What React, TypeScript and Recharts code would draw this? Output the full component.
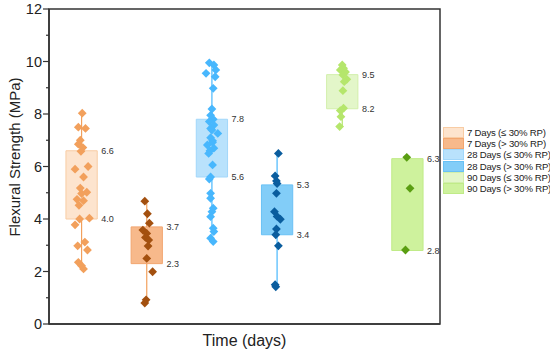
import React from 'react';
import {
  ComposedChart,
  Scatter,
  XAxis,
  YAxis,
  ReferenceArea,
  ReferenceLine,
} from 'recharts';

const groups = [
  '7 Days (≤ 30% RP)',
  '7 Days (> 30% RP)',
  '28 Days (≤ 30% RP)',
  '28 Days (> 30% RP)',
  '90 Days (≤ 30% RP)',
  '90 Days (> 30% RP)',
];
const boxLow = [4.0, 2.3, 5.6, 3.4, 8.2, 2.8];
const boxHigh = [6.6, 3.7, 7.8, 5.3, 9.5, 6.3];

// measured strengths, with horizontal jitter (in category units)
const d7Low = [8.03, 7.5, 7.45, 7.0, 6.85, 6.72, 6.58, 6.0, 5.9, 5.6, 5.18, 5.02, 4.97, 4.75, 4.7, 4.52, 4.03, 4.0, 3.78, 3.12, 2.98, 2.82, 2.35, 2.22, 2.1];
const j7Low = [0.01, -0.05, 0.06, -0.02, -0.05, 0.02, -0.01, 0.1, -0.1, 0.03, -0.02, 0.08, 0, -0.07, 0.03, -0.04, 0.12, -0.03, -0.1, 0.05, -0.06, 0.09, -0.05, 0, 0.03];
const d7High = [4.68, 4.2, 3.84, 3.58, 3.45, 3.3, 3.2, 2.97, 2.5, 1.99, 0.92, 0.8];
const j7High = [-0.03, 0.01, 0.04, -0.06, 0, -0.02, 0.03, 0.02, 0, 0.09, -0.01, -0.03];
const d28Low = [9.95, 9.87, 9.68, 9.55, 9.42, 8.98, 8.19, 7.95, 7.8, 7.71, 7.58, 7.45, 7.39, 7.26, 7.1, 6.98, 6.92, 6.82, 6.7, 6.6, 6.5, 6.06, 5.6, 5.52, 4.98, 4.79, 4.41, 4.28, 4.09, 3.65, 3.52, 3.27, 3.14];
const j28Low = [-0.04, 0.03, 0.06, -0.09, 0.05, 0.02, 0, -0.02, 0.02, -0.04, 0.03, -0.02, 0, 0.09, -0.02, 0.01, 0.01, -0.07, 0.03, -0.03, -0.05, 0.01, -0.02, -0.04, -0.02, -0.02, 0.02, 0, -0.02, 0.02, 0.03, -0.02, 0.02];
const d28High = [6.5, 5.64, 5.45, 5.35, 4.98, 4.28, 4.1, 3.99, 3.62, 3.4, 2.98, 1.5, 1.42];
const j28High = [0.02, -0.03, -0.01, 0, -0.01, -0.04, 0, 0.05, -0.01, -0.02, 0.02, -0.03, -0.02];
const d90Low = [9.87, 9.74, 9.68, 9.6, 9.49, 9.32, 9.23, 8.89, 8.22, 8.13, 7.9, 7.52];
const j90Low = [0, 0.02, -0.03, 0.05, 0.01, 0.07, 0.03, 0.01, 0.02, -0.03, -0.02, -0.04];
const d90High = [6.35, 5.17, 2.82];
const j90High = [-0.01, 0.04, -0.03];

const values = [d7Low, d7High, d28Low, d28High, d90Low, d90High];
const jitters = [j7Low, j7High, j28Low, j28High, j90Low, j90High];

const yTicks = [0, 1, 2, 3, 4, 5, 6, 7, 8, 9, 10, 11, 12];

const boxFill = ['#fde4ce', '#f7b98b', '#b9e2fc', '#82cdf8', '#e3f6c9', '#cef29d'];
const boxStroke = ['#f8cca4', '#f2a670', '#a2d7fa', '#69c1f5', '#d2efab', '#c0eb88'];
const pointColor = ['#f2a05c', '#a3500f', '#48b7fd', '#0a5d9e', '#b5e66c', '#5a9e12'];
const lineColor = ['#f2a05c', '#f2a05c', '#48b7fd', '#48b7fd', '#b5e66c', '#5a9e12'];

const HALF = 0.24;
const FONT = 'Liberation Sans, Arial, sans-serif';

const Diamond = (props: any) => {
  const { cx, cy, fill } = props;
  const r = 4.4;
  return <polygon points={`${cx},${cy - r} ${cx + r},${cy} ${cx},${cy + r} ${cx - r},${cy}`} fill={fill} />;
};

const ValueLabel = (props: any) => (
  <text x={props.cx + 4} y={props.cy + 3.2} fontSize={9} fill="#333" fontFamily={FONT}>
    {props.payload.label}
  </text>
);

const YTick = (props: any) => {
  const { x, y, payload } = props;
  const major = payload.value % 2 === 0;
  return (
    <g>
      <line x1={x - (major ? 6 : 3)} x2={x} y1={y} y2={y} stroke="#333" strokeWidth={1.2} />
      {major && (
        <text x={x - 7} y={y + 5} textAnchor="end" fontSize={14.5} fill="#222" fontFamily={FONT}>
          {payload.value}
        </text>
      )}
    </g>
  );
};

const YLabel = () => (
  <text x={20} y={157} transform="rotate(-90 20 157)" textAnchor="middle" fontSize={15} fill="#222" fontFamily={FONT}>
    Flexural Strength (MPa)
  </text>
);

const XLabel = (props: any) => {
  const vb = props.viewBox;
  return (
    <text x={vb.x + vb.width / 2} y={346} textAnchor="middle" fontSize={16} fill="#222" fontFamily={FONT}>
      Time (days)
    </text>
  );
};

export default function App() {
  const points = values.map((vals, i) => vals.map((v, k) => ({ x: i + 1 + jitters[i][k], y: v })));
  const labels = groups.map((_, i) => [
    { x: i + 1 + HALF, y: boxHigh[i], label: boxHigh[i].toFixed(1) },
    { x: i + 1 + HALF, y: boxLow[i], label: boxLow[i].toFixed(1) },
  ]);

  return (
    <div style={{ position: 'absolute', left: 0, top: 0, width: 550, height: 350, background: '#fff' }}>
      <ComposedChart width={550} height={350} margin={{ top: 9, right: 110, bottom: 0, left: 0 }}>
        <XAxis
          type="number"
          dataKey="x"
          domain={[0.5, 6.5]}
          tick={false}
          tickLine={false}
          axisLine={{ stroke: '#333', strokeWidth: 1.5 }}
          height={26}
          label={<XLabel />}
        />
        <YAxis
          type="number"
          dataKey="y"
          domain={[0, 12]}
          ticks={yTicks}
          interval={0}
          tick={<YTick />}
          tickLine={false}
          tickSize={0}
          tickMargin={0}
          axisLine={{ stroke: '#333', strokeWidth: 1.5 }}
          width={49}
          label={<YLabel />}
        />
        <ReferenceArea x1={0.5} x2={6.5} y1={0} y2={12} fill="none" stroke="#333" strokeWidth={1.5} />
        {groups.map((_, i) => {
          const c = i + 1;
          const lo = Math.min(...values[i]);
          const hi = Math.max(...values[i]);
          return (
            <React.Fragment key={'w' + i}>
              {lo < boxLow[i] && (
                <ReferenceLine segment={[{ x: c, y: lo }, { x: c, y: boxLow[i] }]} stroke={lineColor[i]} strokeWidth={1.2} />
              )}
              {hi > boxHigh[i] && (
                <ReferenceLine segment={[{ x: c, y: boxHigh[i] }, { x: c, y: hi }]} stroke={lineColor[i]} strokeWidth={1.2} />
              )}
              <ReferenceArea
                x1={c - HALF}
                x2={c + HALF}
                y1={boxLow[i]}
                y2={boxHigh[i]}
                fill={boxFill[i]}
                fillOpacity={1}
                stroke={boxStroke[i]}
                strokeWidth={1}
              />
            </React.Fragment>
          );
        })}
        {points.map((pts, i) => (
          <Scatter
            key={'s' + i}
            name={groups[i]}
            data={pts}
            fill={pointColor[i]}
            shape={<Diamond />}
            isAnimationActive={false}
          />
        ))}
        {labels.map((lbs, i) => (
          <Scatter key={'l' + i} data={lbs} shape={<ValueLabel />} isAnimationActive={false} />
        ))}
      </ComposedChart>
      <div
        style={{
          position: 'absolute',
          left: 443,
          top: 127,
          fontFamily: FONT,
          fontSize: 9.6,
          letterSpacing: -0.2,
          color: '#222',
        }}
      >
        {groups.map((g, i) => (
          <div key={g} style={{ display: 'flex', alignItems: 'center', height: 11.2, whiteSpace: 'nowrap' }}>
            <span
              style={{
                display: 'inline-block',
                flex: 'none',
                width: 19,
                height: 9,
                background: boxFill[i],
                border: `1px solid ${boxStroke[i]}`,
                marginRight: 3,
              }}
            />
            {g}
          </div>
        ))}
      </div>
    </div>
  );
}
